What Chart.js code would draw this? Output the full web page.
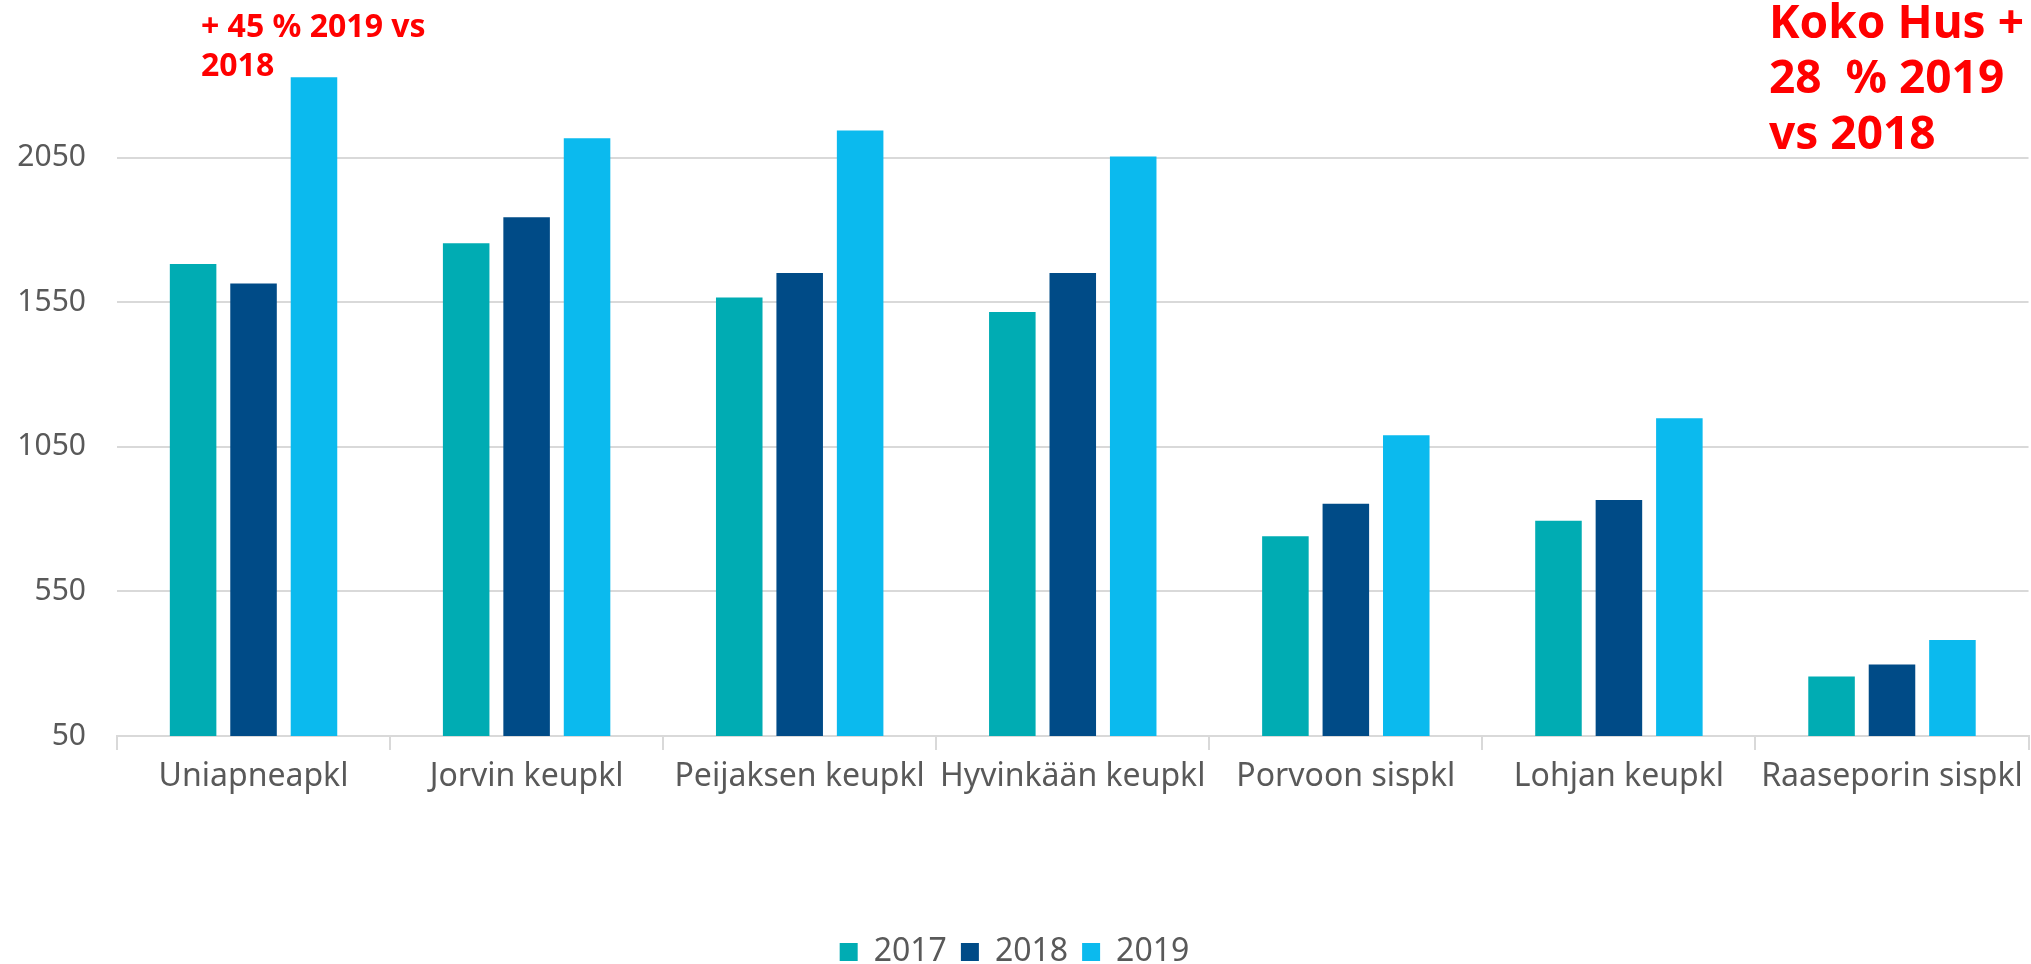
<!DOCTYPE html>
<html>
<head>
<meta charset="utf-8">
<script src="https://cdn.jsdelivr.net/npm/chart.js@4/dist/chart.umd.min.js"></script>
<style>
  html, body { margin: 0; padding: 0; background: #fff; }
  #wrap { width: 2031px; height: 964px; position: relative; }
</style>
</head>
<body>
<div id="wrap"><canvas id="barChart" width="2031" height="964"></canvas></div>
<script>
// categories and yearly values
const categories = ['Uniapneapkl', 'Jorvin keupkl', 'Peijaksen keupkl', 'Hyvinkään keupkl', 'Porvoon sispkl', 'Lohjan keupkl', 'Raaseporin sispkl'];
const values2017 = [1682, 1754, 1566, 1516, 741, 794, 256];
const values2018 = [1615, 1844, 1651, 1651, 853, 866, 297];
const values2019 = [2328, 2117, 2144, 2054, 1090, 1149, 382];
const yTicks = [50, 550, 1050, 1550, 2050];

const grey = '#595959';
const font = '"Noto Sans", "DejaVu Sans", sans-serif';
const bottomPad = -14;

// red notes on top of the chart
const notes = {
    id: 'notes',
    afterDraw(chart) {
        const c = chart.ctx;
        c.save();
        c.fillStyle = '#ff0000';
        c.textBaseline = 'middle';
        c.textAlign = 'left';
        c.font = 'bold 32px ' + font;
        c.fillText('+ 45 % 2019 vs', 201, 28);
        c.fillText('2018', 201, 67);
        c.font = 'bold 46px ' + font;
        c.fillText('Koko Hus +', 1769, 25);
        c.fillText('28  % 2019', 1769, 80);
        c.fillText('vs 2018', 1769, 136);
        c.restore();
    }
};

const ctx = document.getElementById('barChart').getContext('2d');
new Chart(ctx, {
    type: 'bar',
    data: {
        labels: categories,
        datasets: [
            { label: '2017', data: values2017, backgroundColor: '#00ACB3' },
            { label: '2018', data: values2018, backgroundColor: '#004B87' },
            { label: '2019', data: values2019, backgroundColor: '#0BBAEE' }
        ]
    },
    options: {
        responsive: false,
        animation: false,
        layout: { padding: { top: 13, right: 2, bottom: bottomPad, left: 0 } },
        datasets: { bar: { categoryPercentage: 0.664, barPercentage: 0.77 } },
        scales: {
            x: {
                grid: { offset: true, drawOnChartArea: false, color: '#d9d9d9', lineWidth: 2, tickLength: 14 },
                border: { color: '#d9d9d9', width: 2 },
                ticks: { color: grey, font: { family: font, size: 32 }, padding: 8, maxRotation: 0, autoSkip: false },
                afterFit(scale) {
                    const lg = scale.chart.legend;
                    scale.height = scale.chart.height - bottomPad - 736 - (lg ? lg.height : 0);
                }
            },
            y: {
                min: 50,
                max: 2550,
                afterBuildTicks(scale) { scale.ticks = yTicks.map(v => ({ value: v })); },
                grid: { color: '#d9d9d9', lineWidth: 2, drawTicks: false },
                border: { display: false },
                ticks: { color: grey, font: { family: font, size: 30 }, padding: 31, callback: v => String(v) },
                afterFit(scale) { scale.width = 117; scale.paddingTop = 0; scale.paddingBottom = 0; }
            }
        },
        plugins: {
            legend: {
                position: 'bottom',
                labels: { color: grey, font: { family: font, size: 32 }, boxWidth: 18, boxHeight: 18, padding: 14 }
            },
            tooltip: { enabled: false }
        }
    },
    plugins: [notes]
});
</script>
</body>
</html>
